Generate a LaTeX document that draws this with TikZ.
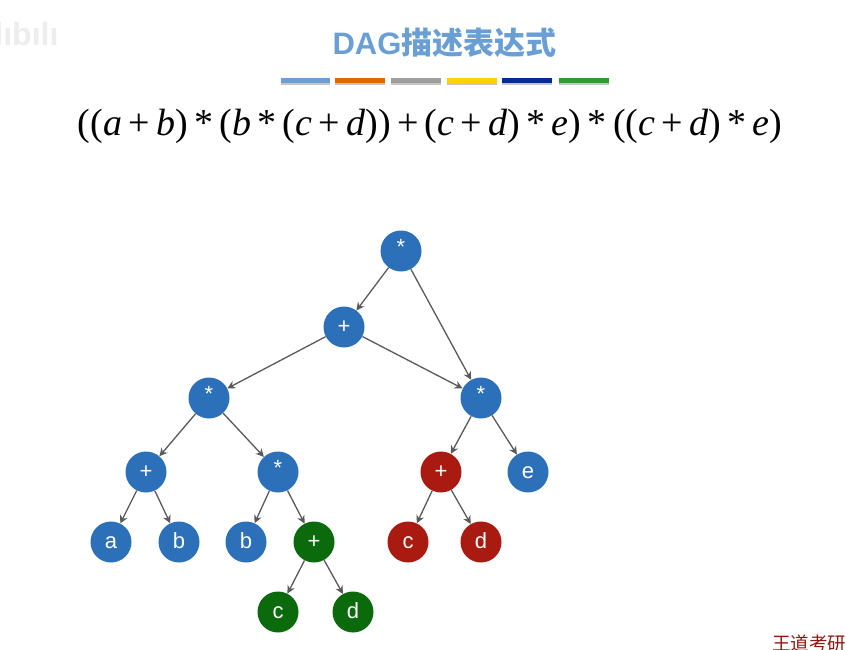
\documentclass[tikz,border=0pt]{standalone}
\usepackage{fontspec}
\setmainfont{Liberation Sans}
\newfontfamily\formulafont{Liberation Serif}
\newfontfamily\cjkfont{Noto Sans CJK SC}
\usetikzlibrary{arrows.meta,shadows}
\definecolor{nodeblue}{HTML}{2B70B8}
\definecolor{nodegreen}{HTML}{0B6A0B}
\definecolor{nodered}{HTML}{A91A10}
\definecolor{edgegray}{HTML}{5A5A5A}
\definecolor{titleblue}{HTML}{6A9FD6}
\tikzset{
  x=1pt,y=-1pt,
  vertex/.style={circle,minimum size=41pt,inner sep=0pt,text=white,
    font=\fontsize{22}{22}\selectfont,text height=12pt,text depth=0pt},
  bluev/.style={vertex,fill=nodeblue},
  greenv/.style={vertex,fill=nodegreen},
  redv/.style={vertex,fill=nodered},
  link/.style={draw=edgegray,line width=1.3pt,-{Stealth[length=8pt,width=8pt]}},
  barseg/.style={minimum height=5pt,inner sep=0pt,anchor=west,
    drop shadow={shadow xshift=0pt,shadow yshift=-2pt,opacity=.45,fill=gray}},
  formula/.style={inner sep=0pt,font=\formulafont\fontsize{38}{38}\selectfont},
}
\newcommand{\starlabel}{\raisebox{2.5pt}{*}}
\begin{document}
\begin{tikzpicture}
\useasboundingbox (0,0) rectangle (846,650);
\fill[white] (0,0) rectangle (846,650);
% watermark
\node[inner sep=0pt,text=black!7,font=\bfseries\fontsize{32}{32}\selectfont] (wm) at (22,34) {ılıbılı};
% title
\node[inner sep=0pt,text=titleblue,font=\fontsize{31}{31}\selectfont] (title) at (444.5,43)
  {\textbf{DAG}{\cjkfont\bfseries 描述表达式}};
% colour bars
\node[barseg,fill=titleblue,minimum width=49pt] (bar1) at (281,81) {};
\node[barseg,fill=orange!85!black,minimum width=50pt] (bar2) at (335,81) {};
\node[barseg,fill=black!38,minimum width=50pt] (bar3) at (391,81) {};
\node[barseg,fill=yellow!70!orange,minimum width=50pt] (bar4) at (447,81) {};
\node[barseg,fill=blue!50!teal!70!black,minimum width=50pt] (bar5) at (502,81) {};
\node[barseg,fill=green!50!black!80!white,minimum width=50pt] (bar6) at (559,81) {};
% formula
\node[formula] (expr) at (430,126) {((\textit{a}\,+\,\textit{b})\,*\,(\textit{b}\,*\,(\textit{c}\,+\,\textit{d}))\,+\,(\textit{c}\,+\,\textit{d})\,*\,\textit{e})\,*\,((\textit{c}\,+\,\textit{d})\,*\,\textit{e})};
% vertices
\node[bluev] (r) at (401,251) {\starlabel};
\node[bluev] (p) at (344,327) {+};
\node[bluev] (l) at (209,398) {\starlabel};
\node[bluev] (m) at (481,398) {\starlabel};
\node[bluev] (p1) at (146,472) {+};
\node[bluev] (s1) at (278,472) {\starlabel};
\node[redv] (p2) at (441,472) {+};
\node[bluev] (e) at (528,472) {e};
\node[bluev] (a) at (111,542) {a};
\node[bluev] (b1) at (179,542) {b};
\node[bluev] (b2) at (246,542) {b};
\node[greenv] (p3) at (314,542) {+};
\node[redv] (c1) at (408,542) {c};
\node[redv] (d1) at (481,542) {d};
\node[greenv] (c2) at (278,612) {c};
\node[greenv] (d2) at (353,612) {d};
% links
\foreach \u/\v in {r/p,r/m,p/l,p/m,l/p1,l/s1,m/p2,m/e,p1/a,p1/b1,s1/b2,s1/p3,p2/c1,p2/d1,p3/c2,p3/d2}
  \draw[link] (\u) -- (\v);
% corner mark
\node[inner sep=0pt,anchor=west,text=nodered!85!black,font=\cjkfont\fontsize{18.5}{18.5}\selectfont] (mark) at (772,643) {王道考研};
\end{tikzpicture}
\end{document}
